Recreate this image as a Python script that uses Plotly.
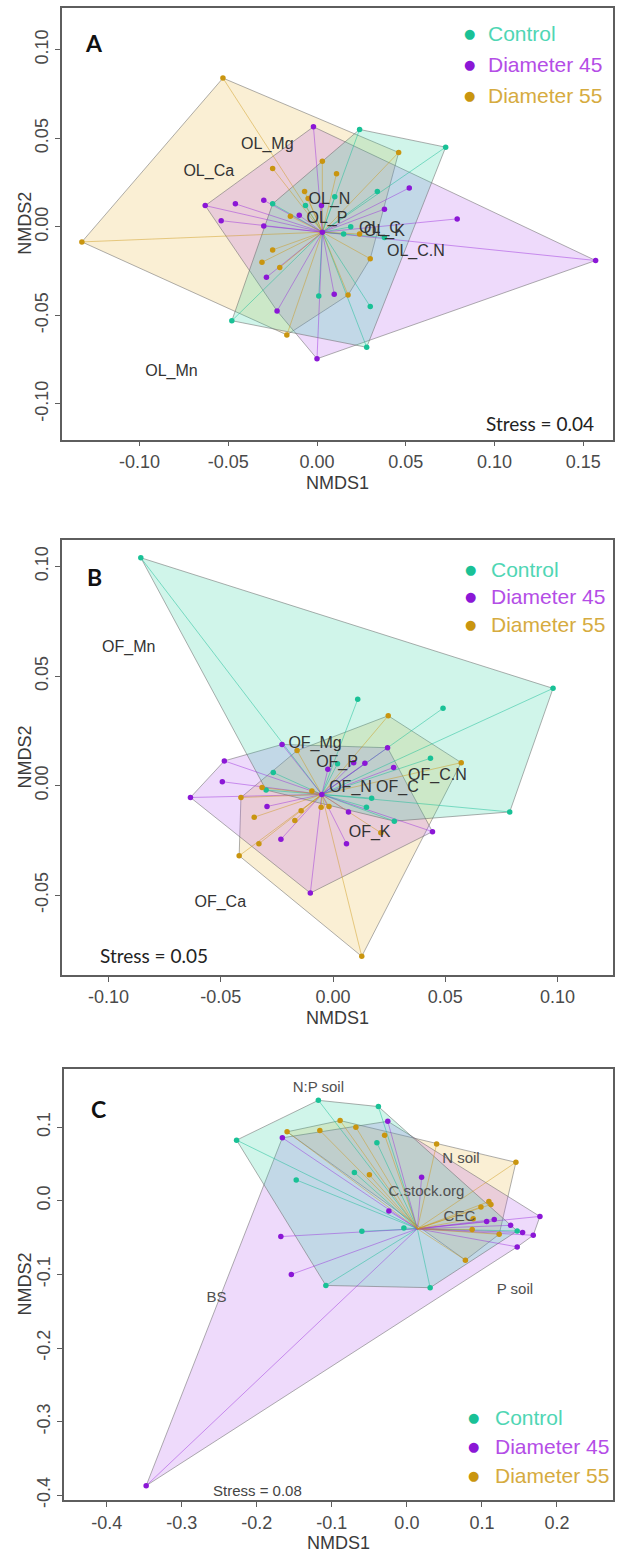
import plotly.graph_objects as go

W, H = 624, 1564

groups = ["Control", "Diameter 45", "Diameter 55"]
marker_colors = ["#19c196", "#8b17d6", "#c9950f"]
legend_text_colors = ["#4fd6b4", "#b44de6", "#d6ab40"]
hull_fills = ["rgba(40,210,160,0.22)", "rgba(175,80,235,0.21)", "rgba(235,185,70,0.23)"]
spider_colors = ["rgba(25,190,150,0.55)", "rgba(150,40,220,0.5)", "rgba(205,150,20,0.5)"]

# ---------------- Panel A (OL) ----------------
A_ctrl_x = [0.024, 0.0725, -0.025, -0.0065, 0.010, 0.034, 0.019, 0.015, 0.038, -0.048, 0.001, 0.030, 0.028]
A_ctrl_y = [0.055, 0.045, 0.013, 0.012, 0.017, 0.020, 0.000, -0.004, -0.006, -0.053, -0.039, -0.045, -0.068]
A_d45_x = [-0.002, -0.063, -0.046, -0.030, -0.054, -0.030, -0.010, 0.0025, 0.038, 0.052, 0.079, 0.003, 0.157, -0.0285, 0.0097, -0.0225, 0.000]
A_d45_y = [0.0565, 0.012, 0.013, 0.015, 0.0035, 0.0005, 0.0065, 0.012, 0.010, 0.022, 0.0045, -0.003, -0.019, -0.0285, -0.038, -0.0475, -0.0745]
A_d55_x = [-0.053, -0.1325, 0.046, -0.025, 0.003, 0.011, -0.007, -0.005, -0.015, -0.025, -0.031, -0.021, 0.030, 0.0175, -0.017, 0.024]
A_d55_y = [0.084, -0.0085, 0.042, 0.033, 0.037, 0.030, 0.020, 0.016, 0.006, -0.013, -0.020, -0.023, -0.018, -0.0385, -0.061, -0.004]
A_center = [0.003, -0.003]
A_labels = ["OL_Mg", "OL_Ca", "OL_N", "OL_P", "OL_C", "OL_K", "OL_C.N", "OL_Mn"]
A_lab_x = [-0.028, -0.061, 0.007, 0.0056, 0.0355, 0.038, 0.0557, -0.082]
A_lab_y = [0.0465, 0.031, 0.015, 0.0047, -0.001, -0.003, -0.0143, -0.0818]
A_xticks = [-0.10, -0.05, 0.00, 0.05, 0.10, 0.15]
A_xticktext = ["-0.10", "-0.05", "0.00", "0.05", "0.10", "0.15"]
A_yticks = [-0.10, -0.05, 0.00, 0.05, 0.10]
A_yticktext = ["-0.10", "-0.05", "0.00", "0.05", "0.10"]
A_stress = "Stress = 0.04"

# ---------------- Panel B (OF) ----------------
B_ctrl_x = [-0.0856, 0.098, 0.011, 0.049, 0.0434, 0.002, -0.0266, -0.0298, 0.0172, 0.0149, 0.0273, 0.0787]
B_ctrl_y = [0.104, 0.0444, 0.0394, 0.0353, 0.0125, 0.010, 0.006, -0.002, -0.0057, -0.0098, -0.0162, -0.012]
B_d45_x = [-0.0484, -0.0227, 0.0243, 0.0142, 0.0092, 0.027, -0.0023, -0.0493, -0.0635, -0.0294, 0.0069, -0.0232, 0.006, 0.0443, -0.0101, -0.005]
B_d45_y = [0.0113, 0.0188, 0.0173, 0.0102, 0.0105, 0.0083, 0.0075, 0.0018, -0.0054, -0.0095, -0.012, -0.0245, -0.0265, -0.021, -0.049, -0.004]
B_d55_x = [0.0246, 0.0571, -0.0316, -0.041, -0.0094, -0.0053, -0.0018, -0.0142, -0.0351, -0.017, -0.033, -0.0418, 0.0213, 0.0128, -0.016]
B_d55_y = [0.0319, 0.0105, -0.0009, -0.0054, -0.0024, -0.0098, -0.0095, -0.0114, -0.0144, -0.0159, -0.0265, -0.032, -0.0215, -0.0779, 0.016]
B_center = [-0.005, -0.004]
B_labels = ["OF_Mn", "OF_Mg", "OF_P", "OF_C.N", "OF_N", "OF_C", "OF_K", "OF_Ca"]
B_lab_x = [-0.091, -0.008, 0.0018, 0.0465, 0.0078, 0.0287, 0.0163, -0.0502]
B_lab_y = [0.0627, 0.019, 0.0105, 0.0045, -0.0012, -0.0012, -0.0218, -0.0534]
B_xticks = [-0.10, -0.05, 0.00, 0.05, 0.10]
B_xticktext = ["-0.10", "-0.05", "0.00", "0.05", "0.10"]
B_yticks = [-0.05, 0.00, 0.05, 0.10]
B_yticktext = ["-0.05", "0.00", "0.05", "0.10"]
B_stress = "Stress = 0.05"

# ---------------- Panel C (soil) ----------------
C_ctrl_x = [-0.118, -0.038, -0.227, -0.040, -0.070, -0.1475, -0.060, -0.004, -0.108, 0.031, 0.147]
C_ctrl_y = [0.1365, 0.128, 0.0824, 0.0788, 0.0385, 0.0284, -0.0415, -0.0368, -0.115, -0.118, -0.041]
C_d45_x = [-0.0255, -0.166, -0.024, -0.168, -0.154, -0.3475, 0.1773, 0.1063, 0.1164, 0.1382, 0.1542, 0.1684, 0.147, 0.0196]
C_d45_y = [0.108, 0.0856, -0.0138, -0.0486, -0.100, -0.387, -0.0212, -0.028, -0.0253, -0.0333, -0.0432, -0.0469, -0.0626, 0.032]
C_d55_x = [-0.1597, -0.116, -0.089, -0.068, -0.0297, -0.050, 0.0396, 0.1453, 0.1093, 0.112, 0.0987, 0.0884, 0.087, 0.123, 0.078]
C_d55_y = [0.0937, 0.0956, 0.109, 0.100, 0.0892, 0.0353, 0.077, 0.0523, -0.001, -0.005, -0.0085, -0.0243, -0.039, -0.0455, -0.0806]
C_center = [0.014, -0.038]
C_labels = ["N:P soil", "N soil", "C.stock.org", "CEC", "P soil", "BS"]
C_lab_x = [-0.118, 0.072, 0.026, 0.070, 0.144, -0.2536]
C_lab_y = [0.153, 0.0568, 0.012, -0.023, -0.1216, -0.1324]
C_xticks = [-0.4, -0.3, -0.2, -0.1, 0.0, 0.1, 0.2]
C_xticktext = ["-0.4", "-0.3", "-0.2", "-0.1", "0.0", "0.1", "0.2"]
C_yticks = [-0.4, -0.3, -0.2, -0.1, 0.0, 0.1]
C_yticktext = ["-0.4", "-0.3", "-0.2", "-0.1", "0.0", "0.1"]
C_stress = "Stress = 0.08"


def convex_hull(xs, ys):
    pts = sorted(set(zip(xs, ys)))
    if len(pts) < 3:
        return pts

    def cross(o, a, b):
        return (a[0] - o[0]) * (b[1] - o[1]) - (a[1] - o[1]) * (b[0] - o[0])

    lower, upper = [], []
    for p in pts:
        while len(lower) >= 2 and cross(lower[-2], lower[-1], p) <= 0:
            lower.pop()
        lower.append(p)
    for p in reversed(pts):
        while len(upper) >= 2 and cross(upper[-2], upper[-1], p) <= 0:
            upper.pop()
        upper.append(p)
    h = lower[:-1] + upper[:-1]
    return h + [h[0]]


fig = go.Figure()

# pixel geometry of the three plot boxes (left, right, top, bottom)
boxes = {
    "A": (62, 613, 8, 442),
    "B": (62, 613, 543, 980),
    "C": (64, 613, 1074, 1508),
}
ranges = {
    "A": ([-0.1437, 0.1668], [-0.1202, 0.1236]),
    "B": ([-0.1207, 0.1247], [-0.0864, 0.1120]),
    "C": ([-0.457, 0.2747], [-0.4068, 0.1797]),
}

panels = [
    ("A", "x", "y", [(A_ctrl_x, A_ctrl_y), (A_d45_x, A_d45_y), (A_d55_x, A_d55_y)], A_center,
     A_labels, A_lab_x, A_lab_y, 16, "#333333"),
    ("B", "x2", "y2", [(B_ctrl_x, B_ctrl_y), (B_d45_x, B_d45_y), (B_d55_x, B_d55_y)], B_center,
     B_labels, B_lab_x, B_lab_y, 16, "#333333"),
    ("C", "x3", "y3", [(C_ctrl_x, C_ctrl_y), (C_d45_x, C_d45_y), (C_d55_x, C_d55_y)], C_center,
     C_labels, C_lab_x, C_lab_y, 15, "#505050"),
]

hull_order = [2, 1, 0]
for name, xa, ya, data, center, labs, lx, ly, lsize, lcol in panels:
    # hulls
    for gi in hull_order:
        xs, ys = data[gi]
        h = convex_hull(xs, ys)
        fig.add_trace(go.Scatter(
            x=[p[0] for p in h], y=[p[1] for p in h], xaxis=xa, yaxis=ya,
            mode="lines", fill="toself", fillcolor=hull_fills[gi],
            line=dict(color="rgba(110,110,110,0.55)", width=1),
            showlegend=False, hoverinfo="skip"))
    # spiders
    for gi in range(3):
        xs, ys = data[gi]
        sx, sy = [], []
        for x, y in zip(xs, ys):
            sx += [center[0], x, None]
            sy += [center[1], y, None]
        fig.add_trace(go.Scatter(
            x=sx, y=sy, xaxis=xa, yaxis=ya, mode="lines",
            line=dict(color=spider_colors[gi], width=0.9),
            showlegend=False, hoverinfo="skip"))
    # points
    for gi in range(3):
        xs, ys = data[gi]
        fig.add_trace(go.Scatter(
            x=xs, y=ys, xaxis=xa, yaxis=ya, mode="markers",
            marker=dict(color=marker_colors[gi], size=5.5),
            name=groups[gi], showlegend=False))
    # variable labels
    fig.add_trace(go.Scatter(
        x=lx, y=ly, xaxis=xa, yaxis=ya, mode="text", text=labs,
        textfont=dict(family="Liberation Sans, Arial", size=lsize, color=lcol),
        showlegend=False, hoverinfo="skip"))


def px_x(px):
    return px / W


def px_y(py):
    return 1 - py / H


axis_style = dict(
    showline=True, mirror=True, linecolor="#5e5e5e", linewidth=1.5,
    ticks="outside", ticklen=5, tickcolor="#5e5e5e", tickwidth=1,
    showgrid=False, zeroline=False,
    tickfont=dict(family="Liberation Sans, Arial", size=18, color="#4a4a4a"),
)

tick_info = {
    "A": (A_xticks, A_xticktext, A_yticks, A_yticktext),
    "B": (B_xticks, B_xticktext, B_yticks, B_yticktext),
    "C": (C_xticks, C_xticktext, C_yticks, C_yticktext),
}
axis_names = {"A": ("xaxis", "yaxis", "y", "x"), "B": ("xaxis2", "yaxis2", "y2", "x2"),
              "C": ("xaxis3", "yaxis3", "y3", "x3")}

layout_axes = {}
for name in ["A", "B", "C"]:
    l, r, t, b = boxes[name]
    xr, yr = ranges[name]
    xt, xtt, yt, ytt = tick_info[name]
    xn, yn, anchor_y, anchor_x = axis_names[name]
    layout_axes[xn] = dict(axis_style, domain=[px_x(l), px_x(r)], range=xr, anchor=anchor_y,
                           tickvals=xt, ticktext=xtt, tickangle=0)
    layout_axes[yn] = dict(axis_style, domain=[px_y(b), px_y(t)], range=yr, anchor=anchor_x,
                           tickvals=yt, ticktext=ytt, tickangle=-90)

annotations = []
title_font = dict(family="Liberation Sans, Arial", size=18, color="#3a3a3a")
for name in ["A", "B", "C"]:
    l, r, t, b = boxes[name]
    annotations.append(dict(text="NMDS1", x=px_x((l + r) / 2), y=px_y(b + 43), xref="paper", yref="paper",
                            showarrow=False, font=title_font, xanchor="center", yanchor="middle"))
    annotations.append(dict(text="NMDS2", x=px_x(25), y=px_y((t + b) / 2), xref="paper", yref="paper",
                            showarrow=False, font=title_font, textangle=-90, xanchor="center", yanchor="middle"))

# panel letters
letter_pos = {"A": (94, 43), "B": (95, 580), "C": (98, 1115)}
for k, (x, y) in letter_pos.items():
    annotations.append(dict(text="<b>%s</b>" % k, x=px_x(x), y=px_y(y), xref="paper", yref="paper",
                            showarrow=False, xanchor="center", yanchor="middle",
                            font=dict(family="Lato, Liberation Sans", size=23, color="#111111")))

# stress labels
annotations.append(dict(text=A_stress, x=px_x(540), y=px_y(426), xref="paper", yref="paper", showarrow=False,
                        xanchor="center", yanchor="middle",
                        font=dict(family="Lato, Liberation Sans", size=19, color="#222222")))
annotations.append(dict(text=B_stress, x=px_x(154), y=px_y(960), xref="paper", yref="paper", showarrow=False,
                        xanchor="center", yanchor="middle",
                        font=dict(family="Lato, Liberation Sans", size=19, color="#222222")))
annotations.append(dict(text=C_stress, x=px_x(257), y=px_y(1498), xref="paper", yref="paper", showarrow=False,
                        xanchor="center", yanchor="middle",
                        font=dict(family="Liberation Sans, Arial", size=15, color="#444444")))

# legends (marker x, text x, row ys)
legend_pos = {
    "A": (469, 486, [34, 65, 96]),
    "B": (470, 489, [572, 600, 628]),
    "C": (473, 493, [1425, 1454, 1483]),
}
for k, (mx, tx, rows) in legend_pos.items():
    for gi, ry in enumerate(rows):
        annotations.append(dict(text="●", x=px_x(mx), y=px_y(ry), xref="paper", yref="paper",
                                showarrow=False, xanchor="center", yanchor="middle",
                                font=dict(family="DejaVu Sans", size=13, color=marker_colors[gi])))
        annotations.append(dict(text=groups[gi], x=px_x(tx), y=px_y(ry), xref="paper", yref="paper",
                                showarrow=False, xanchor="left", yanchor="middle",
                                font=dict(family="Liberation Sans, Arial", size=21, color=legend_text_colors[gi])))

fig.update_layout(
    width=W, height=H,
    margin=dict(l=0, r=0, t=0, b=0),
    paper_bgcolor="white", plot_bgcolor="white",
    showlegend=False,
    annotations=annotations,
    **layout_axes,
)

fig.write_html("out.html")
